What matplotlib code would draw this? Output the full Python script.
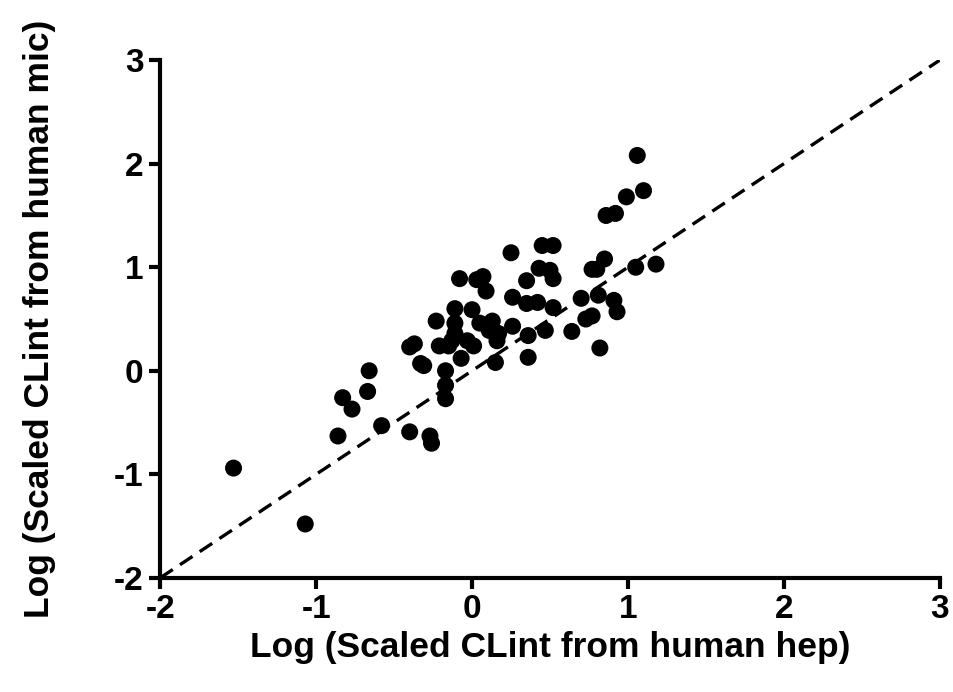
#!/usr/bin/env python3
import matplotlib as mpl

mpl.use("Agg")
import matplotlib.pyplot as plt

# log scaled CLint, human hepatocytes (x) vs human microsomes (y)
HEP = [
    -1.53, -1.07, -0.86, -0.83, -0.77, -0.66, -0.67, -0.58, -0.40, -0.27,
    -0.26, -0.40, -0.37, -0.33, -0.31, -0.23, -0.21, -0.17, -0.17, -0.17,
    -0.15, -0.13, -0.11, -0.11, -0.11, -0.08, -0.07, -0.03, 0.00, 0.01,
    0.03, 0.05, 0.07, 0.09, 0.11, 0.13, 0.15, 0.16, 0.25, 0.26,
    0.26, 0.17, 0.35, 0.35, 0.36, 0.36, 0.42, 0.43, 0.45, 0.47,
    0.50, 0.52, 0.52, 0.52, 0.64, 0.70, 0.73, 0.77, 0.77, 0.80,
    0.81, 0.82, 0.85, 0.86, 0.92, 0.91, 0.93, 0.99, 1.05, 1.06,
    1.10, 1.18,
]
MIC = [
    -0.94, -1.48, -0.63, -0.26, -0.37, 0.00, -0.20, -0.53, -0.59, -0.63,
    -0.70, 0.23, 0.26, 0.07, 0.05, 0.48, 0.24, -0.14, -0.27, 0.00,
    0.24, 0.29, 0.46, 0.60, 0.36, 0.89, 0.12, 0.29, 0.59, 0.24,
    0.88, 0.46, 0.91, 0.77, 0.39, 0.48, 0.08, 0.29, 1.14, 0.43,
    0.71, 0.36, 0.87, 0.65, 0.34, 0.13, 0.66, 0.99, 1.21, 0.39,
    0.97, 1.21, 0.89, 0.61, 0.38, 0.70, 0.50, 0.53, 0.98, 0.98,
    0.73, 0.22, 1.08, 1.50, 1.52, 0.68, 0.57, 1.68, 1.00, 2.08,
    1.74, 1.03,
]
TICKS = [-2, -1, 0, 1, 2, 3]
UNITY = [-2, 3]

plt.rcParams["font.family"] = ["Liberation Sans", "DejaVu Sans"]
plt.rcParams["font.weight"] = "bold"
plt.rcParams["axes.unicode_minus"] = False

fig = plt.figure(figsize=(9.54, 6.92), dpi=100)
ax = fig.add_axes([0.168, 0.165, 0.817, 0.748])

ax.plot(UNITY, UNITY, color="black", lw=2.4, ls=(0, (4.5, 2.6)), zorder=2)
ax.scatter(HEP, MIC, s=150, color="black", edgecolor="none", zorder=3, clip_on=False)

ax.set_xlim(-2, 3)
ax.set_ylim(-2, 3)
ax.set_xticks(TICKS)
ax.set_yticks(TICKS)
ax.tick_params(direction="out", length=8, width=3, labelsize=24, pad=4)
for lab in ax.get_xticklabels() + ax.get_yticklabels():
    lab.set_fontweight("bold")
for side in ["top", "right"]:
    ax.spines[side].set_visible(False)
for side in ["left", "bottom"]:
    ax.spines[side].set_linewidth(3)

ax.set_xlabel("Log (Scaled CLint from human hep)", fontsize=25.5, fontweight="bold", labelpad=4)
ax.set_ylabel("Log (Scaled CLint from human mic)", fontsize=25.5, fontweight="bold", labelpad=42)

fig.savefig("out.png", dpi=100)
